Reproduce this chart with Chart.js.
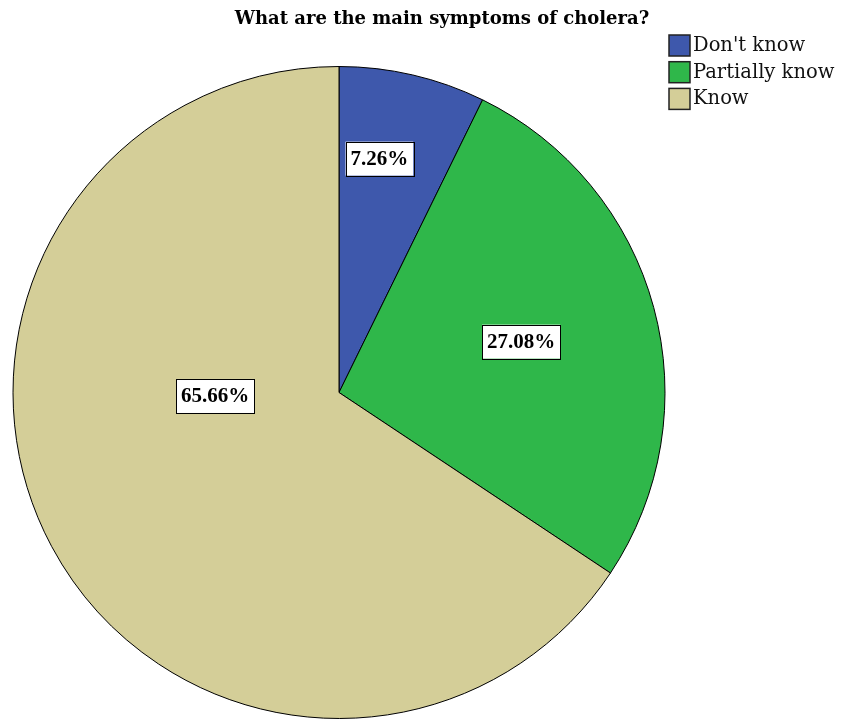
<!DOCTYPE html>
<html>
<head>
<meta charset="utf-8">
<script src="https://cdn.jsdelivr.net/npm/chart.js@4"></script>
<style>
  html, body { margin: 0; padding: 0; background: #fff; }
  #wrap { width: 844px; height: 719px; }
</style>
</head>
<body>
<div id="wrap"><canvas id="pieChart" width="844" height="719"></canvas></div>
<script>
const categories = ["Don't know", "Partially know", "Know"];
const percents = [7.26, 27.08, 65.66];
const sliceColors = ["#3e58ac", "#2fb74a", "#d4ce98"];
const chartTitle = "What are the main symptoms of cholera?";

// where SPSS put the value boxes: angle from 12 o'clock (deg) and fraction of radius
const labelSpots = [[9.8, 0.728], [74.4, 0.58], [268.4, 0.38]];

const extras = {
  id: "extras",
  afterDraw(chart) {
    const ctx = chart.ctx;
    const arc = chart.getDatasetMeta(0).data[0];
    const cx = arc.x, cy = arc.y, r = arc.outerRadius;

    ctx.save();
    // title
    ctx.fillStyle = "#000";
    ctx.font = "bold 18px 'DejaVu Serif'";
    ctx.textAlign = "center";
    ctx.textBaseline = "middle";
    ctx.fillText(chartTitle, 442, 19);

    // legend
    ctx.textAlign = "left";
    ctx.font = "19.5px 'DejaVu Serif'";
    categories.forEach((name, i) => {
      const y = 35 + i * 26.7;
      ctx.fillStyle = sliceColors[i];
      ctx.fillRect(669, y, 21, 21);
      ctx.strokeStyle = "#222";
      ctx.lineWidth = 1.5;
      ctx.strokeRect(669, y, 21, 21);
      ctx.fillStyle = "#111";
      ctx.fillText(name, 693, y + 11);
    });

    // value boxes
    ctx.font = "bold 21px 'Liberation Serif'";
    ctx.textAlign = "center";
    percents.forEach((v, i) => {
      const [deg, f] = labelSpots[i];
      const a = deg * Math.PI / 180;
      const x = cx + Math.sin(a) * r * f;
      const y = cy - Math.cos(a) * r * f;
      const txt = v.toFixed(2) + "%";
      const w = ctx.measureText(txt).width + 10;
      const h = 34;
      ctx.fillStyle = "#fff";
      ctx.fillRect(x - w / 2, y - h / 2, w, h);
      ctx.strokeStyle = "#000";
      ctx.lineWidth = 1;
      ctx.strokeRect(Math.round(x - w / 2) + 0.5, Math.round(y - h / 2) + 0.5, Math.round(w), h);
      ctx.fillStyle = "#000";
      ctx.fillText(txt, x, y + 1);
    });
    ctx.restore();
  }
};

new Chart(document.getElementById("pieChart"), {
  type: "pie",
  data: {
    labels: categories,
    datasets: [{
      data: percents,
      backgroundColor: sliceColors,
      borderColor: "#000",
      borderWidth: 1
    }]
  },
  options: {
    responsive: false,
    animation: false,
    layout: { padding: { left: 12, right: 178, top: 66, bottom: 0 } },
    plugins: {
      legend: { display: false },
      title: { display: false },
      tooltip: { enabled: false }
    }
  },
  plugins: [extras]
});
</script>
</body>
</html>
